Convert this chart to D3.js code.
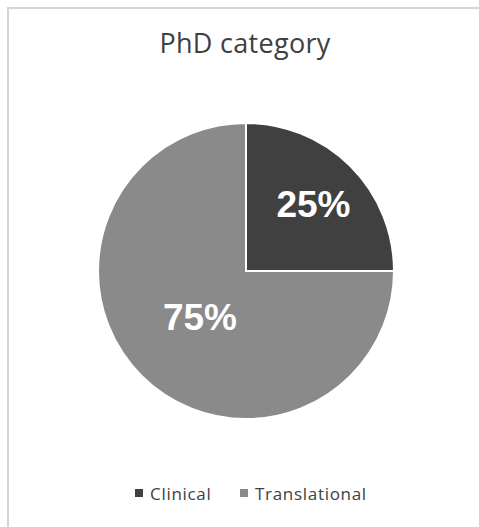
<!DOCTYPE html>
<html><head><meta charset="utf-8">
<script src="https://cdn.jsdelivr.net/npm/d3@7"></script>
<style>html,body{margin:0;padding:0;background:#fff;}</style>
</head><body>
<svg id="chart" width="479" height="527"></svg>
<script>
const categories = ["Clinical", "Translational"];
const values = [25, 75];
const colors = ["#404040", "#8a8a8a"];
const title = "PhD category";
const labelRadii = [0.645, 0.44];

const svg = d3.select("#chart");
// frame
svg.append("path").attr("d", "M8,527 V8 H479").attr("fill", "none").attr("stroke", "#d6d6d6").attr("stroke-width", 2);

svg.append("text").attr("x", 245).attr("y", 53).attr("text-anchor", "middle")
  .attr("font-family", "Open Sans, sans-serif").attr("font-size", 27).attr("fill", "#404040")
  .attr("letter-spacing", 0.3).text(title);

const cx = 246, cy = 271, r = 148;
const data = categories.map((c, i) => ({ cat: c, value: values[i], color: colors[i], lr: labelRadii[i] }));
const pie = d3.pie().value(d => d.value).sort(null);
const arc = d3.arc().innerRadius(0).outerRadius(r);
const arcs = pie(data);
const g = svg.append("g").attr("transform", `translate(${cx},${cy})`);
g.selectAll("path").data(arcs).enter().append("path")
  .attr("d", arc).attr("fill", d => d.data.color)
  .attr("stroke", "#fff").attr("stroke-width", 2).attr("stroke-linejoin", "miter");

g.selectAll("text.lbl").data(arcs).enter().append("text").attr("class", "lbl")
  .attr("transform", d => {
    const la = d3.arc().innerRadius(r * d.data.lr).outerRadius(r * d.data.lr);
    const c = la.centroid(d); return `translate(${c[0]},${c[1]})`;
  })
  .attr("dy", "0.36em").attr("text-anchor", "middle")
  .attr("font-family", "Liberation Sans, Arial, sans-serif").attr("font-weight", "bold")
  .attr("font-size", 37).attr("fill", "#fff")
  .text(d => d.data.value + "%");

// legend
const legendX = [135, 240];
const lg = svg.append("g");
data.forEach((d, i) => {
  lg.append("rect").attr("x", legendX[i]).attr("y", 489).attr("width", 8).attr("height", 8).attr("fill", d.color);
  lg.append("text").attr("x", legendX[i] + 15).attr("y", 500)
    .attr("font-family", "Open Sans, sans-serif").attr("font-size", 17).attr("fill", "#404040")
    .attr("letter-spacing", 0.7).text(d.cat);
});
</script>
</body></html>
